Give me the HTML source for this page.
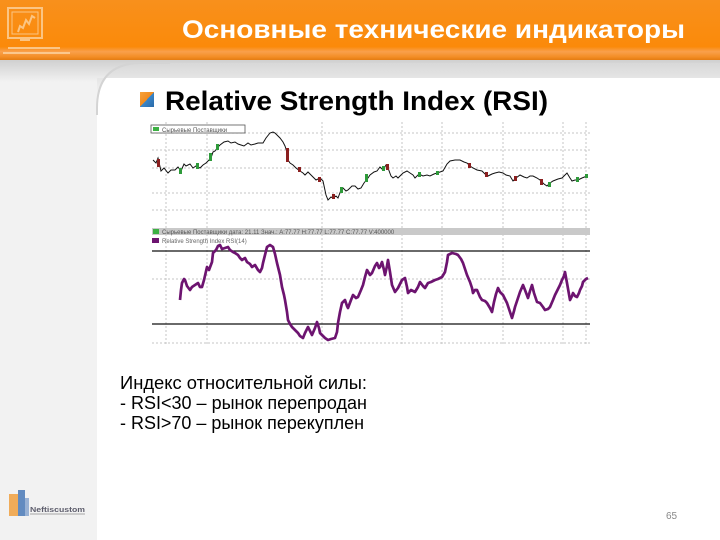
<!DOCTYPE html>
<html><head><meta charset="utf-8"><style>
html,body{margin:0;padding:0;width:720px;height:540px;overflow:hidden;background:#f2f2f2;}
svg{display:block;}
</style></head><body>
<svg width="720" height="540" viewBox="0 0 720 540" xmlns="http://www.w3.org/2000/svg">
<defs>
<linearGradient id="hdr" x1="0" y1="0" x2="0" y2="1">
<stop offset="0" stop-color="#f8901c"/>
<stop offset="0.78" stop-color="#fb8a0a"/>
<stop offset="0.86" stop-color="#f9a04c"/>
<stop offset="0.95" stop-color="#f38d24"/>
<stop offset="1" stop-color="#e47c12"/>
</linearGradient>
<linearGradient id="shL" x1="0" y1="0" x2="0" y2="1">
<stop offset="0" stop-color="#d0d0d0"/>
<stop offset="1" stop-color="#f2f2f2"/>
</linearGradient>
<linearGradient id="shW" x1="0" y1="0" x2="0" y2="1">
<stop offset="0" stop-color="#d8d8d8"/>
<stop offset="1" stop-color="#ffffff"/>
</linearGradient>
<linearGradient id="ico" x1="0" y1="0" x2="1" y2="1">
<stop offset="0" stop-color="#f7a23a"/>
<stop offset="0.5" stop-color="#f08a1e"/>
<stop offset="0.5" stop-color="#3a86c8"/>
<stop offset="1" stop-color="#2a6aa8"/>
</linearGradient>
</defs>

<rect x="0" y="0" width="720" height="540" fill="#f2f2f2"/>
<rect x="0" y="60" width="720" height="22" fill="url(#shL)"/>
<path d="M97,540 L97,108 Q97,63 142,63 L720,63 L720,540 Z" fill="#ffffff"/>
<path d="M97,108 Q97,63 142,63 L720,63 L720,78 L97,78 Z" fill="url(#shW)"/>
<path d="M97,115 L97,108 Q97,63 142,63 L170,63" fill="none" stroke="#d4d4d4" stroke-width="2"/>

<!-- header -->
<rect x="0" y="0" width="720" height="60" fill="url(#hdr)"/>
<g fill="none" stroke="#fcd3a0" stroke-width="2" opacity="0.8">
<rect x="8" y="8" width="34" height="30"/>
<rect x="12" y="12" width="26" height="22" stroke-width="1"/>
<path d="M18,32 L20,26 L23,28 L26,20 L29,24 L32,16 L35,18"/>
<path d="M20,40 L30,40 M8,48 L60,48 M3,53 L70,53" />
</g>
<text x="182" y="38" font-family="Liberation Sans, Noto Sans CJK SC, sans-serif" font-weight="bold" font-size="25" fill="#ffffff" textLength="503" lengthAdjust="spacingAndGlyphs">Основные технические индикаторы</text>

<!-- subtitle -->
<rect x="140" y="92" width="14" height="15" fill="url(#ico)"/>
<text x="165" y="110" font-family="Liberation Sans, sans-serif" font-weight="bold" font-size="27" fill="#000000" textLength="383" lengthAdjust="spacingAndGlyphs">Relative Strength Index (RSI)</text>

<!-- CHART -->
<g>
<rect x="150" y="122" width="442" height="225" fill="#ffffff"/>
<g stroke="#c4c4c4" stroke-width="1" stroke-dasharray="2,2" fill="none">
<line x1="152" y1="133" x2="590" y2="133"/>
<line x1="152" y1="150" x2="590" y2="150"/>
<line x1="152" y1="168" x2="590" y2="168"/>
<line x1="152" y1="193" x2="590" y2="193"/>
<line x1="152" y1="210" x2="590" y2="210"/>
<line x1="152" y1="279" x2="590" y2="279"/>
<line x1="152" y1="343" x2="590" y2="343"/>
<line x1="166" y1="122" x2="166" y2="346"/>
<line x1="207" y1="122" x2="207" y2="346"/>
<line x1="322" y1="122" x2="322" y2="346"/>
<line x1="402" y1="122" x2="402" y2="346"/>
<line x1="442" y1="122" x2="442" y2="346"/>
<line x1="503" y1="122" x2="503" y2="346"/>
<line x1="563" y1="122" x2="563" y2="346"/>
<line x1="586" y1="122" x2="586" y2="346"/>
</g>
<rect x="151" y="125" width="94" height="8" fill="#ffffff" stroke="#555" stroke-width="0.8"/>
<rect x="153" y="127" width="6" height="4" fill="#3cb043"/>
<text x="162" y="132" font-family="Liberation Sans, sans-serif" font-size="6" fill="#555">Сырьевые Поставщики</text>

<polyline fill="none" stroke="#111" stroke-width="1" points="153,160 156,163 158,158 161,171 164,168 168,173 171,170 175,170 178,167 181,171 184,164 186,166 190,164 193,168 196,166 200,168 203,165 206,163 209,160 211,158 213,152 215,151 218,147 220,145 224,142 228,141 231,143 235,142 238,144 241,145 244,146 248,143 251,145 255,144 258,143 263,143 266,138 270,133 273,132 275,133 278,136 280,138 283,142 285,146 287,152 288,160 290,163 293,165 296,168 300,171 303,173 305,175 308,172 311,175 314,178 316,180 320,178 323,181 326,195 328,200 331,197 333,198 336,196 338,198 341,190 343,188 346,191 348,190 352,186 355,186 358,189 361,188 364,183 368,178 370,175 374,172 377,171 380,167 383,170 386,165 388,168 391,176 393,178 396,176 398,178 401,175 403,173 407,171 410,173 413,175 415,178 419,174 423,176 427,175 430,176 434,174 437,173 440,172 443,171 447,164 450,161 455,160 460,160 464,162 467,163 470,166 473,168 477,170 482,171 485,174 488,176 492,174 495,173 499,172 503,173 506,175 510,176 513,181 516,178 520,175 524,177 527,178 530,176 533,176 537,178 540,180 544,184 547,186 550,183 553,181 558,179 562,178 565,175 567,173 570,178 572,181 575,180 578,180 582,178 587,176"/>
<g fill="#2e9a3a">
<rect x="179" y="168" width="3" height="6"/><rect x="196" y="163" width="3" height="6"/><rect x="209" y="153" width="3" height="8"/><rect x="216" y="144" width="3" height="6"/>
<rect x="340" y="187" width="3" height="6"/><rect x="365" y="174" width="3" height="8"/><rect x="382" y="166" width="3" height="5"/><rect x="418" y="172" width="3" height="5"/>
<rect x="436" y="171" width="3" height="4"/><rect x="548" y="182" width="3" height="5"/><rect x="576" y="177" width="3" height="5"/><rect x="585" y="174" width="3" height="4"/>
</g>
<g fill="#8a1f1f">
<rect x="157" y="159" width="3" height="8"/><rect x="286" y="148" width="3" height="14"/><rect x="298" y="167" width="3" height="5"/><rect x="318" y="177" width="3" height="5"/>
<rect x="332" y="194" width="3" height="5"/><rect x="386" y="164" width="3" height="6"/><rect x="468" y="163" width="3" height="5"/><rect x="485" y="172" width="3" height="5"/>
<rect x="514" y="176" width="3" height="5"/><rect x="540" y="179" width="3" height="6"/>
</g>

<rect x="152" y="228" width="438" height="7" fill="#c9c9c9"/>
<rect x="153" y="229" width="6" height="5" fill="#3cb043"/>
<text x="162" y="234" font-family="Liberation Sans, sans-serif" font-size="6" fill="#555">Сырьевые Поставщики дата: 21.11       Знач.: A:77.77 H:77.77 L:77.77 C:77.77 V:400000</text>
<rect x="152" y="238" width="7" height="5" fill="#6d1470"/>
<text x="162" y="243" font-family="Liberation Sans, sans-serif" font-size="6" fill="#666">Relative Strength Index RSI(14)</text>

<line x1="152" y1="251" x2="590" y2="251" stroke="#111" stroke-width="1.3"/>
<line x1="152" y1="324" x2="590" y2="324" stroke="#111" stroke-width="1.3"/>

<polyline fill="none" stroke="#6d1470" stroke-width="2.7" stroke-linejoin="round" points="180,300 181,290 182,283 184,279 185,280 187,286 190,290 192,287 195,285 198,283 200,287 202,287 204,280 207,267 209,270 212,262 213,253 216,250 218,246 220,245 222,249 225,248 228,247 230,250 233,252 235,253 238,255 240,258 242,260 245,258 247,262 250,264 252,267 255,265 258,270 260,272 262,268 263,263 265,255 267,247 270,245 273,247 275,254 277,263 280,275 282,287 284,295 285,300 287,312 288,320 290,324 292,327 295,330 298,333 300,336 303,338 305,333 308,327 310,331 312,335 315,328 317,322 319,328 320,333 323,336 325,338 328,340 331,339 335,338 337,332 338,323 340,312 342,303 345,300 347,306 348,308 351,300 353,295 356,298 358,297 361,290 363,285 365,277 367,270 370,275 372,273 375,266 377,263 379,268 380,267 382,262 384,270 385,275 387,266 388,260 390,272 392,285 395,292 398,288 400,284 402,280 405,278 407,287 408,293 411,290 415,292 418,287 420,282 423,286 425,288 428,283 431,282 435,280 438,279 442,277 445,272 447,262 448,255 452,253 456,254 458,255 461,259 463,263 465,269 467,275 470,282 472,288 473,293 475,290 477,290 480,297 482,300 485,301 487,303 490,308 492,312 494,302 496,294 498,288 500,292 503,295 505,299 507,303 509,309 512,318 514,311 515,307 518,298 520,292 523,285 525,290 528,298 530,291 532,285 534,293 537,302 540,303 543,307 545,310 548,309 550,307 553,300 555,295 558,289 560,285 562,280 564,276 565,272 567,283 570,300 572,296 573,293 575,296 577,297 579,293 580,290 582,286 583,282 586,279 588,278"/>
</g>

<g font-family="Liberation Sans, Noto Sans CJK SC, sans-serif" font-size="18" fill="#000">
<text x="120" y="389" textLength="247" lengthAdjust="spacingAndGlyphs">Индекс относительной силы:</text>
<text x="120" y="409" textLength="247" lengthAdjust="spacingAndGlyphs">- RSI&lt;30 – рынок перепродан</text>
<text x="120" y="429" textLength="244" lengthAdjust="spacingAndGlyphs">- RSI&gt;70 – рынок перекуплен</text>
</g>

<text x="666" y="519" font-family="Liberation Sans, sans-serif" font-size="10" fill="#888">65</text>

<g opacity="0.85">
<rect x="9" y="494" width="9" height="22" fill="#f0a040"/>
<rect x="18" y="490" width="7" height="26" fill="#4a7ab8"/>
<rect x="25" y="498" width="4" height="18" fill="#8aa8d0"/>
<text x="30" y="512" font-family="Liberation Sans, sans-serif" font-size="7" font-weight="bold" fill="#445" textLength="55" lengthAdjust="spacingAndGlyphs">Neftiscustom</text>
<line x1="30" y1="514" x2="85" y2="514" stroke="#999" stroke-width="1"/>
</g>
</svg>
</body></html>
